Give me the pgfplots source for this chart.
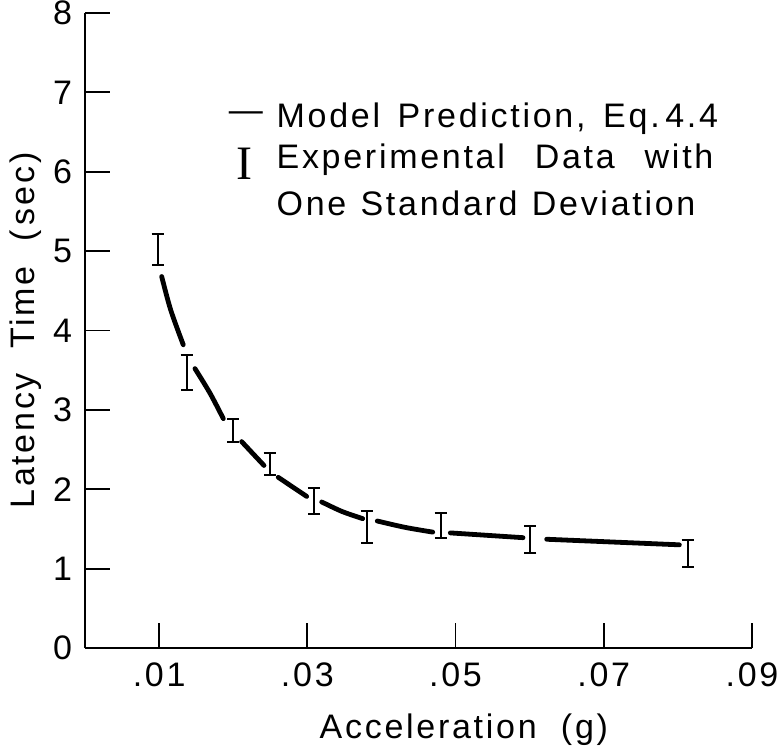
\documentclass[border=0pt]{standalone}
\usepackage{fontspec}
\setmainfont{Liberation Sans}[LetterSpace=8]
\newfontfamily\seriffont{Liberation Serif}
\usepackage{pgfplots}
\pgfplotsset{compat=1.18}

% experimental means with one standard deviation
\pgfplotstableread{
x       y     e
0.0098  5.02  0.20
0.0137  3.47  0.22
0.0200  2.74  0.14
0.0249  2.32  0.14
0.0309  1.85  0.165
0.0380  1.52  0.20
0.0480  1.54  0.16
0.0601  1.37  0.17
0.0813  1.19  0.165
}\expdata

\begin{document}
\begin{tikzpicture}[font=\fontsize{17}{20}\selectfont]
\useasboundingbox (-42.5pt,-51pt) rectangle (346pt,324pt);
\begin{axis}[
    at={(0pt,0pt)}, anchor=south west,
    scale only axis, width=333.5pt, height=317.5pt,
    xmin=0, xmax=0.09, ymin=0, ymax=8,
    axis x line*=bottom, axis y line*=left,
    axis line style={line width=1.3pt, -},
    scaled x ticks=false,
    xtick={0.01,0.03,0.05,0.07,0.09},
    xticklabels={.01,.03,.05,.07,.09},
    ytick={0,1,2,3,4,5,6,7,8},
    yticklabels={0,1,2,3,4,5,6,7,8},
    tick align=inside,
    major tick length=12.5pt,
    tick style={line width=0.9pt, black},
    /pgf/number format/assume math mode=true,
    tick label style={font=\fontsize{17}{20}\selectfont},
    xticklabel style={yshift=-4pt},
    yticklabel style={xshift=-3pt},
    xlabel={Acceleration\ \ (g)},
    ylabel={Latency\ \ Time\ \ (\,sec)},
    xlabel style={at={(axis description cs:0.568,-0.129)}, anchor=center},
    ylabel style={at={(axis description cs:-0.0885,0.5)}, anchor=center},
    clip=false,
]
% model prediction, drawn in pieces between the bars
\addplot[black, line width=2.4pt, line cap=round, smooth] coordinates {(0.01035,4.68) (0.01156,4.26) (0.01326,3.82)};
\addplot[black, line width=2.4pt, line cap=round, smooth] coordinates {(0.01484,3.52) (0.01687,3.21) (0.01866,2.89)};
\addplot[black, line width=2.4pt, line cap=round] coordinates {(0.02114,2.60) (0.02415,2.30)};
\addplot[black, line width=2.4pt, line cap=round] coordinates {(0.02608,2.15) (0.02991,1.91)};
\addplot[black, line width=2.4pt, line cap=round, smooth] coordinates {(0.03194,1.84) (0.03468,1.72) (0.03747,1.63)};
\addplot[black, line width=2.4pt, line cap=round, smooth] coordinates {(0.03944,1.60) (0.04318,1.52) (0.04692,1.46)};
\addplot[black, line width=2.4pt, line cap=round] coordinates {(0.0493,1.45) (0.0591,1.39)};
\addplot[black, line width=2.4pt, line cap=round] coordinates {(0.0623,1.37) (0.0802,1.30)};

\addplot[draw=none, mark=none, black,
    error bars/.cd, y dir=both, y explicit,
    error bar style={line width=1pt, black},
    error mark options={rotate=90, mark size=3pt, line width=1pt, black}]
    table[x=x, y=y, y error=e] {\expdata};

\node[anchor=west, inner sep=0pt] at (axis cs:0.0258,6.67) {Model\hspace{0.52em}Prediction,\hspace{0.52em}Eq.\,4.4};
\node[anchor=west, inner sep=0pt] at (axis cs:0.0258,6.15) {Experimental\hspace{0.88em}Data\hspace{0.88em}with};
\node[anchor=west, inner sep=0pt] at (axis cs:0.0258,5.60) {One\hspace{0.42em}Standard\hspace{0.42em}Deviation};
\node[inner sep=0pt] at (axis cs:0.0217,6.69) {---};
\node[inner sep=0pt, font=\fontsize{24}{26}\seriffont] at (axis cs:0.0215,6.10) {I};
\end{axis}
\end{tikzpicture}
\end{document}
